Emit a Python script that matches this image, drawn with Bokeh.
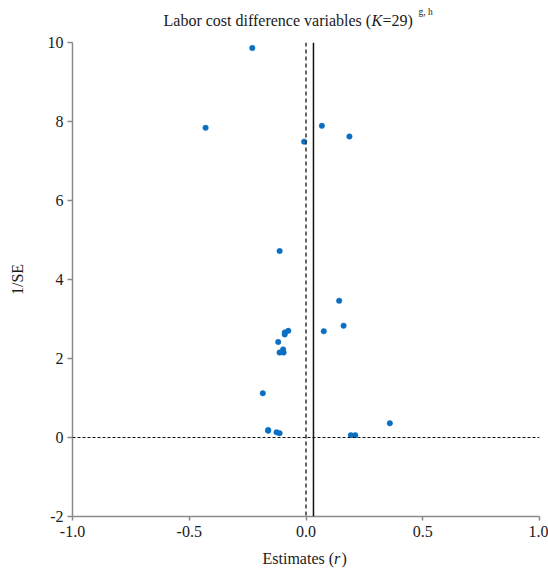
from bokeh.plotting import figure
from bokeh.layouts import column
from bokeh.models import Range1d, FixedTicker, PrintfTickFormatter, Span, ColumnDataSource
from bokeh.core.properties import value
from bokeh.embed import file_html
from bokeh.resources import INLINE

# ---- data ----
estimates = [-0.230, -0.430, 0.068, 0.186, -0.008, -0.113, 0.142, 0.161, 0.076,
             -0.076, -0.091, -0.091, -0.119, -0.098, -0.113, -0.096, -0.185,
             -0.162, -0.162, -0.126, -0.113, 0.192, 0.211, 0.359]
inv_se = [9.86, 7.84, 7.89, 7.62, 7.49, 4.72, 3.46, 2.83, 2.69,
          2.70, 2.66, 2.61, 2.42, 2.23, 2.15, 2.15, 1.12,
          0.19, 0.17, 0.13, 0.11, 0.06, 0.06, 0.36]
mean_estimate = 0.032
zero_line = 0.0
x_ticks = [-1.0, -0.5, 0.0, 0.5, 1.0]
y_ticks = [-2, 0, 2, 4, 6, 8, 10]
title_parts = ["Labor cost difference variables (", "K", "=29)"]
title_sup = "g, h"
x_title_parts = ["Estimates (", "r", ")"]
y_title = "1/SE"

FONT = "Liberation Serif"
W = 548
LEFT, RIGHT = 72, 9
TOP_H, MAIN_H, BOT_H = 32, 514, 28
TXT = "#1a1a1a"


def text_strip(height):
    # frame spans canvas x from LEFT to W-RIGHT; x range uses canvas pixels
    f = figure(width=W, height=height, output_backend="svg", toolbar_location=None,
               title=None, x_axis_type=None, y_axis_type=None,
               x_range=Range1d(LEFT, W - RIGHT), y_range=Range1d(height, 0),
               min_border_left=LEFT, min_border_right=RIGHT,
               min_border_top=0, min_border_bottom=0)
    f.outline_line_color = None
    f.xgrid.visible = False
    f.ygrid.visible = False
    return f


styles = ["normal", "italic", "normal"]

# ---- title strip ----
top = text_strip(TOP_H)
for t, s, x in zip(title_parts, styles, [163, 371, 382]):
    top.text(x=[x], y=[19.5], text=[t], text_font=value(FONT), text_font_size="16px",
             text_font_style=s, text_color=TXT, text_baseline="middle", text_align="left")
top.text(x=[418], y=[11], text=[title_sup], text_font=value(FONT), text_font_size="9.5px",
         text_color=TXT, text_baseline="middle", text_align="left")

# ---- main chart ----
p = figure(width=W, height=MAIN_H, output_backend="svg", toolbar_location=None,
           title=None, x_range=Range1d(-1, 1), y_range=Range1d(-2, 10),
           min_border_left=LEFT, min_border_right=RIGHT, min_border_top=10, min_border_bottom=30)
p.outline_line_color = None
p.xgrid.visible = False
p.ygrid.visible = False

for ax in (p.xaxis[0], p.yaxis[0]):
    ax.axis_line_color = "#8a8a8a"
    ax.axis_line_width = 1.5
    ax.major_tick_line_color = "#8a8a8a"
    ax.major_tick_line_width = 1.5
    ax.minor_tick_line_color = None
    ax.major_label_text_font = FONT
    ax.major_label_text_font_size = "16px"
    ax.major_label_text_color = TXT

p.xaxis[0].ticker = FixedTicker(ticks=x_ticks)
p.xaxis[0].formatter = PrintfTickFormatter(format="%.1f")
p.xaxis[0].major_tick_in = 0
p.xaxis[0].major_tick_out = 4
p.xaxis[0].major_label_standoff = 5

p.yaxis[0].ticker = FixedTicker(ticks=y_ticks)
p.yaxis[0].formatter = PrintfTickFormatter(format="%d")
p.yaxis[0].major_tick_in = 0
p.yaxis[0].major_tick_out = 5
p.yaxis[0].major_label_standoff = 4
p.yaxis[0].axis_label = y_title
p.yaxis[0].axis_label_text_font = FONT
p.yaxis[0].axis_label_text_font_size = "16px"
p.yaxis[0].axis_label_text_font_style = "normal"
p.yaxis[0].axis_label_text_color = TXT
p.yaxis[0].axis_label_standoff = 19

p.add_layout(Span(location=zero_line, dimension="height", line_color="#333333",
                  line_width=1.5, line_dash="4 3"))
p.add_layout(Span(location=mean_estimate, dimension="height", line_color="#111111",
                  line_width=1.5))
p.add_layout(Span(location=zero_line, dimension="width", line_color="#111111",
                  line_width=1, line_dash="3 2"))

src = ColumnDataSource(dict(x=estimates, y=inv_se))
p.scatter("x", "y", source=src, size=5.5, fill_color="#0A6FC2",
          line_color="#0A6FC2", line_width=0.5)

# ---- x-axis title strip ----
bot = text_strip(BOT_H)
for t, s, x in zip(x_title_parts, styles, [262, 333.5, 341]):
    bot.text(x=[x], y=[12], text=[t], text_font=value(FONT), text_font_size="16px",
             text_font_style=s, text_color=TXT, text_baseline="middle", text_align="left")

layout = column(top, p, bot, spacing=0)
open("out.html", "w").write(file_html(layout, INLINE))
